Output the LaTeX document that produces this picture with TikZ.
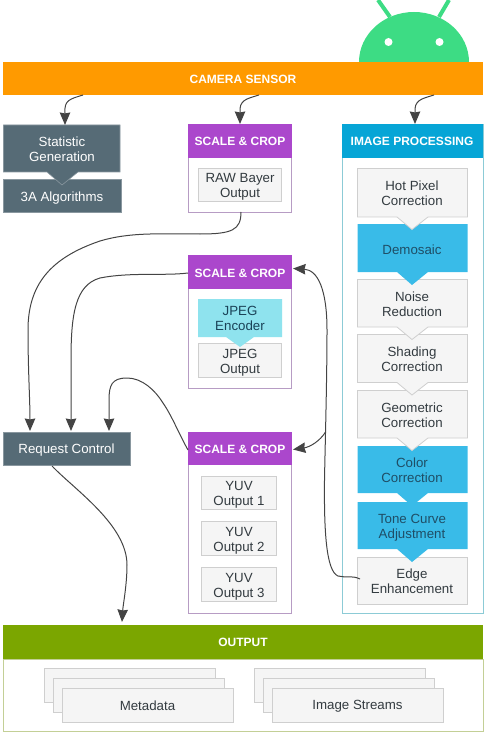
\documentclass[tikz,border=0pt]{standalone}
\usepackage{fontspec}
\setmainfont{Liberation Sans}
\usetikzlibrary{arrows.meta}
\definecolor{slate}{HTML}{566B76}
\definecolor{purp}{HTML}{AB47CC}
\definecolor{purpl}{HTML}{B79CC4}
\definecolor{proc}{HTML}{06A5D6}
\definecolor{procl}{HTML}{8CCBD6}
\definecolor{blu}{HTML}{39BBE8}
\definecolor{cyanb}{HTML}{8FE3EE}
\definecolor{grayb}{HTML}{F5F5F5}
\definecolor{grayl}{HTML}{CFCFCF}
\definecolor{oran}{HTML}{FF9A00}
\definecolor{olive}{HTML}{7BA600}
\definecolor{olivel}{HTML}{C3CF96}
\definecolor{droid}{HTML}{3DDC84}
\definecolor{ink}{HTML}{333B40}
\definecolor{inkb}{HTML}{1F4E66}
\definecolor{arr}{HTML}{444444}
\tikzset{x=1pt,y=-1pt,
  txt/.style={font=\fontsize{13.3}{15}\selectfont,align=center,inner sep=0pt,yshift=-0.8pt},
  head/.style={txt,font=\fontsize{12}{15}\selectfont\bfseries,text=white},
  conn/.style={draw=arr,line width=1pt,-{Stealth[length=12.5pt,width=10.5pt,inset=1pt]}},
  graybox/.style={fill=grayb,draw=grayl,line width=0.8pt},
  blubox/.style={fill=blu,draw=none},
  slatebox/.style={fill=slate,draw=slate!70!white,line width=0.6pt},
  frame/.style={draw=#1,line width=0.8pt,fill=white}}
\begin{document}
\begin{tikzpicture}
\useasboundingbox (0,0) rectangle (485,735);
% android
\draw[droid,line width=4pt] (378,0) -- (390,17) (449,0) -- (439,17);
\fill[droid] (359,62) arc[start angle=180,end angle=360,x radius=55,y radius=50] -- cycle;
\fill[white] (388.5,42) circle (4) (439.5,42) circle (4);
% camera
\fill[oran] (3,62) rectangle (483,95);
\node[head] (cam) at (243,79) {CAMERA SENSOR};
\coordinate (cam1) at (83,95);
\coordinate (cam2) at (259,95);
\coordinate (cam3) at (434,95);
% stat
\path[slatebox] (3.5,179.5) rectangle (121.5,212);
\path[slatebox] (3.5,125) -- (120,125) -- (120,172) -- (78,172) -- (62,185) -- (47,172) -- (3.5,172) -- cycle;
\node[txt,text=white] (stat) at (62,148) {Statistic\\Generation};
\node[txt,text=white] (algo) at (62,197) {3A Algorithms};
\coordinate (statT) at (65,125);
% scale 1
\path[frame=purpl] (188.5,124.5) rectangle (291.5,212);
\fill[purp] (188,124) rectangle (292,158);
\node[head] (s1) at (240,141) {SCALE \& CROP};
\path[graybox] (198.5,168.5) rectangle (281.5,201.5);
\node[txt,text=ink] (raw) at (240,185.7) {RAW Bayer\\Output};
\coordinate (s1T) at (240,124);
\coordinate (s1B) at (241,212);
% image processing
\path[frame=procl] (342,124.5) rectangle (483,613);
\fill[proc] (342,124) rectangle (483,158);
\node[head] (ip) at (412,141) {IMAGE PROCESSING};
\coordinate (ipT) at (415,124);
\newcommand{\stepshape}[4]{%
  \path[#1] (357.5,#2) -- (467.5,#2) -- (467.5,#3) -- (428,#3) -- (412,#3+12.5) -- (397,#3) -- (357.5,#3) -- cycle;}
\path[graybox] (357.5,557.5) rectangle (467.5,604.5);
\path[blubox] (357.5,502) -- (467.5,502) -- (467.5,549) -- (428,549) -- (412,562) -- (397,549) -- (357.5,549) -- cycle;
\path[blubox] (357.5,446) -- (467.5,446) -- (467.5,493) -- (428,493) -- (412,506) -- (397,493) -- (357.5,493) -- cycle;
\stepshape{graybox}{390.5}{438}{}
\stepshape{graybox}{334.5}{382.5}{}
\stepshape{graybox}{279.5}{327}{}
\path[blubox] (357.5,224) -- (467.5,224) -- (467.5,272) -- (428,272) -- (412,285) -- (397,272) -- (357.5,272) -- cycle;
\stepshape{graybox}{168.5}{217}{}
\node[txt,text=ink] (hot) at (412,192.5) {Hot Pixel\\Correction};
\node[txt,text=inkb] (dem) at (412,249) {Demosaic};
\node[txt,text=ink] (noi) at (412,303.5) {Noise\\Reduction};
\node[txt,text=ink] (sha) at (412,358.5) {Shading\\Correction};
\node[txt,text=ink] (geo) at (412,414.5) {Geometric\\Correction};
\node[txt,text=inkb] (col) at (412,469.5) {Color\\Correction};
\node[txt,text=inkb] (ton) at (412,526.5) {Tone Curve\\Adjustment};
\node[txt,text=ink] (edg) at (412,580) {Edge\\Enhancement};
\coordinate (edgL) at (360,579);
% scale 2
\path[frame=purpl] (188.5,255.5) rectangle (291.5,388);
\fill[purp] (188,255) rectangle (292,289);
\node[head] (s2) at (240,273) {SCALE \& CROP};
\path[graybox] (198.5,343.5) rectangle (281.5,377.5);
\path[fill=cyanb] (198,299) -- (282,299) -- (282,337) -- (254,337) -- (240,347) -- (226,337) -- (198,337) -- cycle;
\node[txt,text=inkb!85!black] (jpe) at (240,318) {JPEG\\Encoder};
\node[txt,text=ink] (jpo) at (240,362) {JPEG\\Output};
\coordinate (s2L) at (188,273);
\coordinate (s2R) at (293,268.5);
% scale 3
\path[frame=purpl] (188.5,432.5) rectangle (291.5,613);
\fill[purp] (188,432) rectangle (292,465);
\node[head] (s3) at (240,449) {SCALE \& CROP};
\path[graybox] (201.5,476.5) rectangle (276.5,509.5);
\path[graybox] (201.5,521.5) rectangle (276.5,555.5);
\path[graybox] (201.5,567.5) rectangle (276.5,601.5);
\node[txt,text=ink] (y1) at (239,494) {YUV\\Output 1};
\node[txt,text=ink] (y2) at (239,540) {YUV\\Output 2};
\node[txt,text=ink] (y3) at (239,586) {YUV\\Output 3};
\coordinate (s3L) at (188,450);
\coordinate (s3R) at (293,449.5);
\coordinate (brn) at (325.5,432);
% request
\path[slatebox] (3,432) rectangle (130,465);
\node[txt,text=white] (req) at (66.5,449.5) {Request Control};
\coordinate (reqB) at (52,466);
\coordinate (reqT1) at (30,431);
\coordinate (reqT2) at (71,431);
\coordinate (reqT3) at (109,431);
% output
\path[frame=olivel] (3,659) rectangle (483,731);
\fill[olive] (3,625) rectangle (483,659);
\node[head] (out) at (243,642) {OUTPUT};
\coordinate (outT) at (122,622);
\path[graybox] (44.5,668.5) rectangle (215.5,702);
\path[graybox] (53.5,678.5) rectangle (224.5,712);
\path[graybox] (62.5,688.5) rectangle (233.5,722);
\path[graybox] (254.5,668.5) rectangle (425.5,702);
\path[graybox] (263.5,678.5) rectangle (434.5,712);
\path[graybox] (272.5,688.5) rectangle (443.5,722);
\node[txt,text=ink] (md) at (147.5,705) {Metadata};
\node[txt,text=ink] (is) at (357.5,705) {Image Streams};
% connectors
\draw[conn] (cam1) .. controls (70,99) and (64,100) .. (65,113) -- (statT);
\draw[conn] (cam2) .. controls (246,99) and (239,100) .. (240,113) -- (s1T);
\draw[conn] (cam3) .. controls (421,99) and (414,100) .. (415,113) -- (ipT);
\draw[conn] (s1B) .. controls (241,230) and (232,234) .. (200,234) .. controls (160,234) and (130,232) .. (100,241) .. controls (50,258) and (28,285) .. (28,330) .. controls (28,370) and (30,400) .. (reqT1);
\draw[conn] (s2L) .. controls (165,276) and (130,272) .. (100,278) .. controls (75,285) and (71,315) .. (71,360) -- (reqT2);
\draw[conn] (s3L) .. controls (178,432) and (172,416) .. (163,403) .. controls (155,390) and (142,378) .. (127,378) .. controls (112,378) and (109,385) .. (109,400) -- (reqT3);
\draw[conn] (reqB) .. controls (75,490) and (127,525) .. (127,565) .. controls (127,585) and (123,605) .. (outT);
\draw[conn] (edgL) .. controls (352,575) and (345,578) .. (338,576) .. controls (326,571) and (324,530) .. (324.5,480) .. controls (325,450) and (327,380) .. (327,330) .. controls (327,290) and (318,270) .. (s2R);
\draw[conn] (brn) .. controls (320,441) and (310,447) .. (s3R);
\end{tikzpicture}
\end{document}
